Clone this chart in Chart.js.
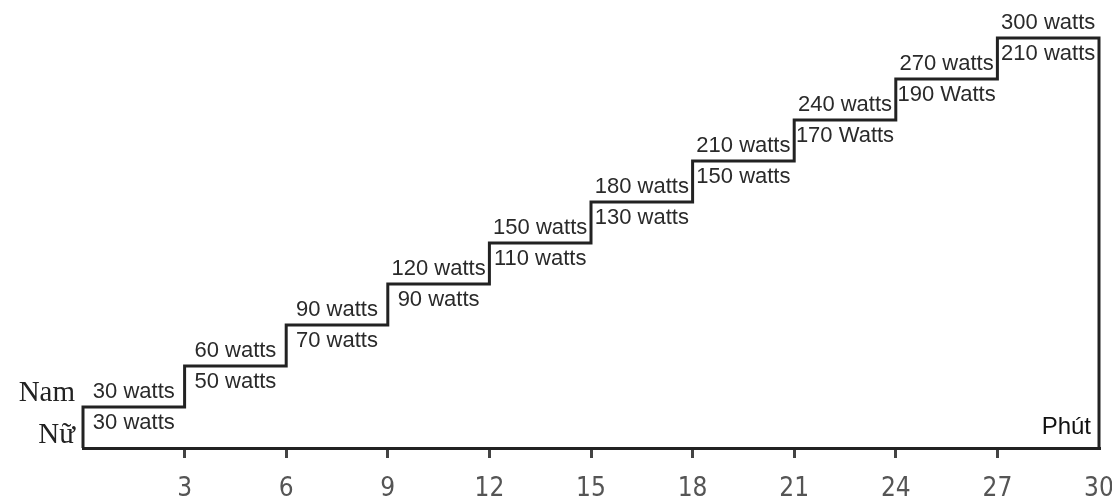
<!DOCTYPE html>
<html>
<head>
<meta charset="utf-8">
<script src="https://cdn.jsdelivr.net/npm/chart.js@4"></script>
<style>
html,body{margin:0;padding:0;background:#fff;}
#wrap{width:1112px;height:503px;}
</style>
</head>
<body>
<div id="wrap"><canvas id="c" width="1112" height="503"></canvas></div>
<script>
const minutes = [0, 3, 6, 9, 12, 15, 18, 21, 24, 27];
const maleWatts = [30, 60, 90, 120, 150, 180, 210, 240, 270, 300];
const femaleWatts = [30, 50, 70, 90, 110, 130, 150, 170, 190, 210];
const maleLabels = ['30 watts','60 watts','90 watts','120 watts','150 watts','180 watts','210 watts','240 watts','270 watts','300 watts'];
const femaleLabels = ['30 watts','50 watts','70 watts','90 watts','110 watts','130 watts','150 watts','170 Watts','190 Watts','210 watts'];
const tickValues = [3, 6, 9, 12, 15, 18, 21, 24, 27, 30];
const endMinute = 30;

const points = [{x: minutes[0], y: 0}];
minutes.forEach((m, i) => points.push({x: m, y: maleWatts[i]}));
points.push({x: endMinute, y: maleWatts[maleWatts.length - 1]});
points.push({x: endMinute, y: 0});

const labelPlugin = {
  id: 'stepLabels',
  afterDatasetsDraw(chart) {
    const ctx = chart.ctx;
    const xs = chart.scales.x, ys = chart.scales.y;
    ctx.save();
    ctx.font = '22px "Liberation Sans", Arial, sans-serif';
    ctx.fillStyle = '#2a2a2a';
    ctx.textAlign = 'center';
    ctx.textBaseline = 'middle';
    minutes.forEach((m, i) => {
      const next = i + 1 < minutes.length ? minutes[i + 1] : endMinute;
      const cx = (xs.getPixelForValue(m) + xs.getPixelForValue(next)) / 2;
      const ly = ys.getPixelForValue(maleWatts[i]);
      ctx.fillText(maleLabels[i], cx, ly - 15);
      ctx.fillText(femaleLabels[i], cx, ly + 16);
    });
    const y0 = ys.getPixelForValue(maleWatts[0]);
    ctx.font = '29px "Liberation Serif", "Times New Roman", serif';
    ctx.fillStyle = '#222';
    ctx.textAlign = 'right';
    ctx.fillText('Nam', xs.getPixelForValue(0) - 8, y0 - 14);
    ctx.fillText('Nữ', xs.getPixelForValue(0) - 8, y0 + 28);
    ctx.font = '24px "Liberation Sans", Arial, sans-serif';
    ctx.fillStyle = '#111';
    ctx.textAlign = 'right';
    ctx.fillText('Phút', xs.getPixelForValue(endMinute) - 8, ys.getPixelForValue(0) - 21);
    ctx.restore();
  }
};

new Chart(document.getElementById('c'), {
  type: 'line',
  data: {
    datasets: [{
      data: points,
      stepped: 'before',
      borderColor: '#222',
      borderWidth: 3,
      pointRadius: 0,
      fill: false,
      clip: false
    }]
  },
  options: {
    responsive: false,
    animation: false,
    layout: {padding: {left: 83, right: 13, top: 38, bottom: 0}},
    plugins: {legend: {display: false}, tooltip: {enabled: false}},
    scales: {
      x: {
        type: 'linear',
        min: 0,
        max: endMinute,
        afterBuildTicks(scale) {
          scale.ticks = [{value: 0}].concat(tickValues.map(v => ({value: v})));
        },
        afterFit(scale) {
          scale.height = 55;
          scale.paddingLeft = 0;
          scale.paddingRight = 0;
        },
        ticks: {
          autoSkip: false,
          maxRotation: 0,
          padding: 16,
          color: '#555',
          font: {family: '"Liberation Sans Narrow", "DejaVu Sans Condensed", sans-serif', size: 26},
          callback: v => (v === 0 ? '' : String(v))
        },
        grid: {
          drawOnChartArea: false,
          drawTicks: true,
          tickLength: 10,
          lineWidth: 3,
          color: c => (c.tick && (c.tick.value === 0 || c.tick.value === endMinute)) ? 'rgba(0,0,0,0)' : '#444'
        },
        border: {display: true, color: '#222', width: 3}
      },
      y: {
        display: false,
        min: 0,
        max: maleWatts[maleWatts.length - 1]
      }
    }
  },
  plugins: [labelPlugin]
});
</script>
</body>
</html>
